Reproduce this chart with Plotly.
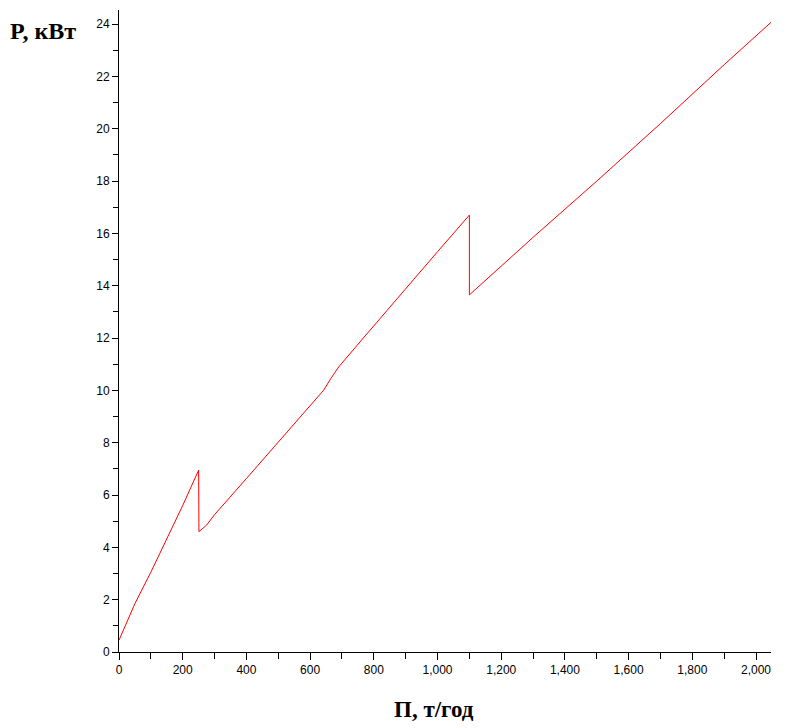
import plotly.graph_objects as go

# Production (т/год) and power (кВт)
productivity = [0, 25, 50, 100, 150, 200, 250, 251, 275, 300, 400, 500, 600, 642, 665, 690,
                760, 900, 1000, 1100, 1100, 1200, 1300, 1500, 1700, 1900, 2048]
power = [0.45, 1.15, 1.85, 3.05, 4.3, 5.6, 6.95, 4.6, 4.85, 5.25, 6.63, 8.02, 9.42, 10.0, 10.45, 10.9,
         11.9, 13.9, 15.3, 16.7, 13.65, 14.75, 15.85, 18.0, 20.2, 22.45, 24.08]

x_range = [0, 2047]
y_range = [0, 24.54]
x_title = "П, т/год"
y_title = "P, кВт"

fig = go.Figure()
fig.add_trace(go.Scatter(x=productivity, y=power, mode="lines",
                         line=dict(color="#ff0000", width=1), showlegend=False))

tick_font = dict(family="Liberation Sans, Arial, sans-serif", size=12, color="black")
fig.update_layout(
    width=787, height=728,
    margin=dict(l=119, r=16, t=10, b=76),
    paper_bgcolor="white", plot_bgcolor="white",
    xaxis=dict(range=x_range, showgrid=False, zeroline=False, showline=True,
               linecolor="black", linewidth=1, ticks="outside", ticklen=7,
               tickcolor="black", dtick=200, tick0=0, tickformat=",d",
               tickfont=tick_font,
               minor=dict(dtick=100, ticks="outside", ticklen=6, tickcolor="black")),
    yaxis=dict(range=y_range, showgrid=False, zeroline=False, showline=True,
               linecolor="black", linewidth=1, ticks="outside", ticklen=6,
               tickcolor="black", dtick=2, tick0=0, tickfont=tick_font,
               minor=dict(dtick=1, ticks="outside", ticklen=5, tickcolor="black")),
    annotations=[
        dict(text="<b>%s</b>" % y_title, xref="paper", yref="paper", x=-0.171, y=0.967,
             xanchor="left", yanchor="middle", showarrow=False,
             font=dict(family="Liberation Serif, Times New Roman, serif", size=24, color="black")),
        dict(text="<b>%s</b>" % x_title, xref="paper", yref="paper", x=0.4825, y=-0.09,
             xanchor="center", yanchor="middle", showarrow=False,
             font=dict(family="Liberation Serif, Times New Roman, serif", size=23, color="black")),
    ],
)
fig.write_html("out.html", config={"displayModeBar": False},
               post_script="document.body.style.margin='0';document.body.style.overflow='hidden';")
